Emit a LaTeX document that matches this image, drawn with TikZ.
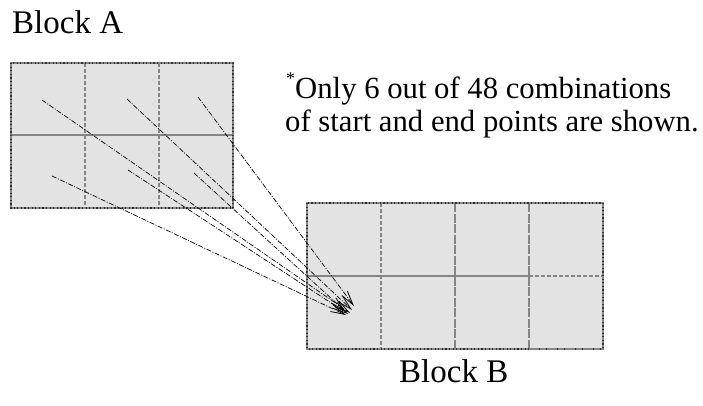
\documentclass[tikz,border=0pt]{standalone}
\usepackage{fontspec}
\setmainfont{Liberation Serif}
\usetikzlibrary{arrows.meta}
\definecolor{cellfill}{HTML}{E3E3E3}
\definecolor{divgray}{HTML}{858585}
\tikzset{
  blockfill/.style={fill=cellfill, draw=divgray, line width=1.8pt},
  blockedge/.style={draw=black!80, line width=1.2pt, dash pattern=on 1.2pt off 2.4pt},
  divsolid/.style={draw=divgray, line width=1.8pt},
  divlong/.style={draw=divgray, line width=1.8pt, dash pattern=on 9pt off 1.5pt},
  divdash/.style={draw=divgray, line width=1.8pt, dash pattern=on 4pt off 2pt},
  conn/.style={draw=black, line width=0.7pt, dash pattern=on 5pt off 1.5pt on 1pt off 1.5pt,
    -{Straight Barb[length=14pt,width=7pt,line width=0.8pt]}},
  lbl/.style={font=\fontsize{33}{38}\selectfont, inner sep=0pt, anchor=base west},
  note/.style={font=\fontsize{30.7}{35}\selectfont, inner sep=0pt, anchor=base west}
}
\begin{document}
\begin{tikzpicture}[x=1pt,y=-1pt]
\useasboundingbox (0,0) rectangle (703,405);
% Block A
\path[blockfill] (11,63) rectangle (233,208);
\draw[divdash] (85,63) -- (85,208);
\draw[divdash] (159,63) -- (159,208);
\draw[divsolid] (11,135) -- (233,135);
\draw[blockedge] (11,63) rectangle (233,208);
% Block B
\path[blockfill] (307,203) rectangle (603,349);
\draw[divdash] (381,203) -- (381,349);
\draw[divlong] (455,203) -- (455,349);
\draw[divlong] (529,203) -- (529,349);
\draw[divsolid] (307,276) -- (529,276);
\draw[divdash] (529,276) -- (603,276);
\draw[blockedge] (307,203) rectangle (603,349);
\draw[divdash] (529,349) -- (603,349);
% labels
\node[lbl] (la) at (12,33) {Block A};
\node[lbl] (lb) at (399,382) {Block B};
\node[note] (n1) at (286,98) {\raisebox{0.45em}{\fontsize{18}{18}\selectfont *}Only 6 out of 48 combinations};
\node[note] (n2) at (285,131) {of start and end points are shown.};
% start and end points
\coordinate (s1) at (42,100);
\coordinate (s2) at (127,99);
\coordinate (s3) at (198,97);
\coordinate (s4) at (52,176);
\coordinate (s5) at (128,170);
\coordinate (s6) at (194,173);
\coordinate (e1) at (350,313);
\coordinate (e2) at (352,310);
\coordinate (e3) at (354,306);
\coordinate (e4) at (346,315);
\coordinate (e5) at (348,314);
\coordinate (e6) at (345,311);
\draw[conn] (s1) -- (e1);
\draw[conn] (s2) -- (e2);
\draw[conn] (s3) -- (e3);
\draw[conn] (s4) -- (e4);
\draw[conn] (s5) -- (e5);
\draw[conn] (s6) -- (e6);
\end{tikzpicture}
\end{document}
